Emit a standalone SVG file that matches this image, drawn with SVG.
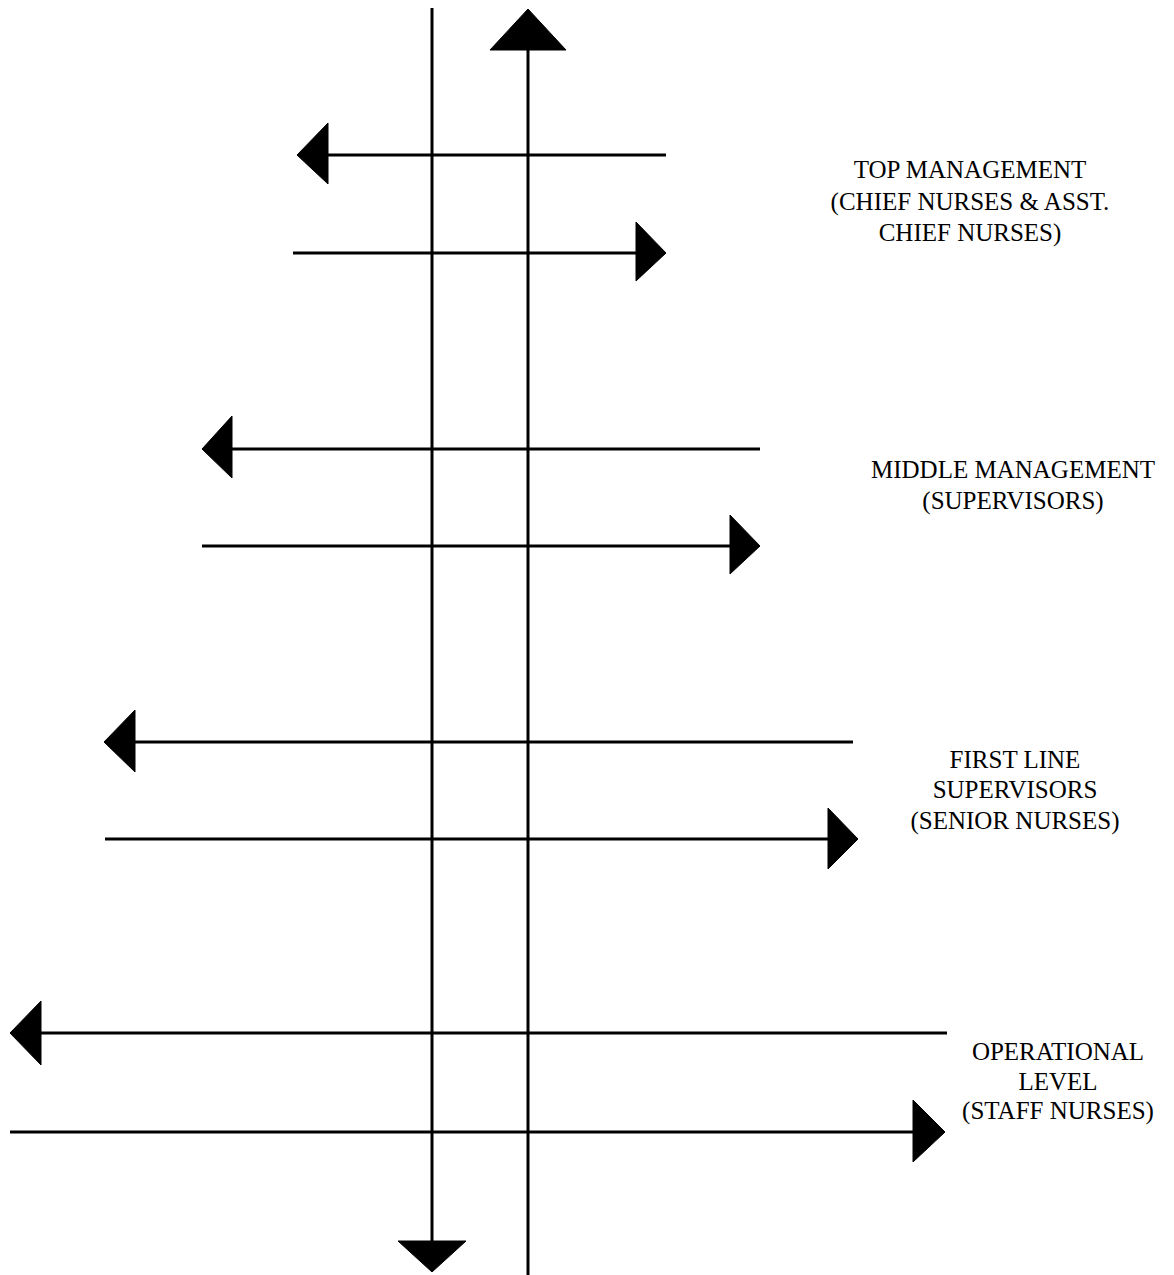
<svg xmlns="http://www.w3.org/2000/svg" width="1174" height="1275" viewBox="0 0 1174 1275">
  <style>
    .ln { stroke: #000; stroke-width: 3; fill: none; }
    .hd { fill: #000; stroke: #000; stroke-width: 1; stroke-linejoin: round; }
    .lbl { font-family: "Liberation Serif", "Times New Roman", serif; font-size: 25px; fill: #000; text-anchor: middle; }
  </style>
  <rect width="1174" height="1275" fill="#fff"/>

  <g id="connectors">
    <!-- vertical axes: downward flow and upward flow -->
    <line class="ln" x1="432" y1="8" x2="432" y2="1244"/>
    <polygon class="hd" points="398,1241 466,1241 432,1272"/>
    <line class="ln" x1="528" y1="48" x2="528" y2="1275"/>
    <polygon class="hd" points="490,50 566,50 528,9"/>

    <!-- top management pair -->
    <line class="ln" x1="326" y1="155" x2="666" y2="155"/>
    <polygon class="hd" points="328,123 328,184 297,155"/>
    <line class="ln" x1="293" y1="253" x2="637" y2="253"/>
    <polygon class="hd" points="636,222 636,281 666,253"/>

    <!-- middle management pair -->
    <line class="ln" x1="230" y1="449" x2="760" y2="449"/>
    <polygon class="hd" points="232,416 232,478 202,449"/>
    <line class="ln" x1="202" y1="546" x2="731" y2="546"/>
    <polygon class="hd" points="730,515 730,574 760,546"/>

    <!-- first line supervisors pair -->
    <line class="ln" x1="133" y1="742" x2="853" y2="742"/>
    <polygon class="hd" points="135,710 135,772 104,742"/>
    <line class="ln" x1="105" y1="839" x2="829" y2="839"/>
    <polygon class="hd" points="828,808 828,869 858,839"/>

    <!-- operational level pair -->
    <line class="ln" x1="39" y1="1033" x2="947" y2="1033"/>
    <polygon class="hd" points="41,1001 41,1065 10,1033"/>
    <line class="ln" x1="10" y1="1132" x2="914" y2="1132"/>
    <polygon class="hd" points="913,1100 913,1162 945,1132"/>
  </g>

  <g id="top-management">
    <text class="lbl" x="970" y="178">TOP MANAGEMENT</text>
    <text class="lbl" x="970" y="210">(CHIEF NURSES &amp; ASST.</text>
    <text class="lbl" x="970" y="241">CHIEF NURSES)</text>
  </g>

  <g id="middle-management">
    <text class="lbl" x="1013" y="478">MIDDLE MANAGEMENT</text>
    <text class="lbl" x="1013" y="509">(SUPERVISORS)</text>
  </g>

  <g id="first-line-supervisors">
    <text class="lbl" x="1015" y="768">FIRST LINE</text>
    <text class="lbl" x="1015" y="798">SUPERVISORS</text>
    <text class="lbl" x="1015" y="829">(SENIOR NURSES)</text>
  </g>

  <g id="operational-level">
    <text class="lbl" x="1058" y="1060">OPERATIONAL</text>
    <text class="lbl" x="1058" y="1090">LEVEL</text>
    <text class="lbl" x="1058" y="1119">(STAFF NURSES)</text>
  </g>
</svg>
